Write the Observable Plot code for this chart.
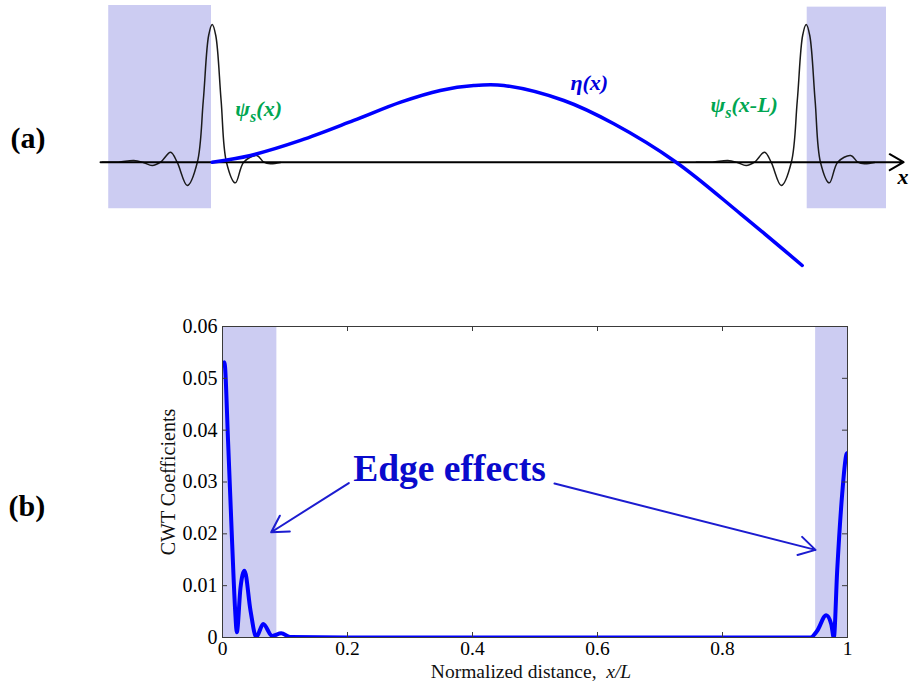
<!DOCTYPE html>
<html><head><meta charset="utf-8">
<script src="https://cdn.jsdelivr.net/npm/d3@7"></script>
<script src="https://cdn.jsdelivr.net/npm/@observablehq/plot@0.6"></script>
<style>
body{margin:0;background:#fff;}
#fig{position:relative;width:909px;height:684px;overflow:hidden;background:#fff;}
#top,#bot{position:absolute;left:0;}
#top{top:0}
#bot{top:300px}
</style></head><body><div id="fig"><div id="top"></div><div id="bot"></div></div>
<script>
// ---------- Panel (a): schematic (x in units of L, amplitude normalised to wavelet peak) ----------
const waveDx  = [-0.185, -0.158, -0.132, -0.116, -0.101, -0.087, -0.070, -0.059, -0.042, -0.025, -0.015, -0.006, 0, 0.006, 0.015, 0.024, 0.039, 0.053, 0.075, 0.087, 0.098, 0.115];
const waveAmp = [0, 0, 0.012, -0.002, -0.024, 0, 0.073, 0, -0.169, 0, 0.448, 0.92, 1.0, 0.92, 0.448, 0, -0.150, 0, 0.049, 0, -0.012, -0.002];
const waveShifts = [0, 1];              // psi_s(x) and psi_s(x - L)
const etaX = [0, 0.0645, 0.1487, 0.2384, 0.3174, 0.384, 0.4404, 0.4909, 0.5919, 0.6761, 0.781, 0.8894, 0.9933];
const etaY = [0, 0.049, 0.158, 0.303, 0.436, 0.521, 0.557, 0.557, 0.448, 0.279, 0, -0.375, -0.750];
const topZoneX1 = [-0.1742, 1.0017];
const topZoneX2 = [-0.0012, 1.1352];
const topZoneY1 = [-0.338, -0.338];
const topZoneY2 = [1.138, 1.126];
const axisStart = -0.188, axisEnd = 1.164;

// ---------- Panel (b): CWT coefficients ----------
const cwtX = [0, 0.003, 0.0091, 0.0155, 0.0203, 0.0229, 0.0288, 0.0352, 0.0448, 0.054, 0.0651, 0.0795, 0.0939, 0.109, 0.2, 0.4, 0.6, 0.8, 0.9408, 0.9515, 0.9659, 0.9739, 0.9781, 0.9835, 0.9915, 0.9984, 1];
const cwtY = [0.0525, 0.0531, 0.0373, 0.018, 0.0051, 0.001, 0.0096, 0.0129, 0.0052, 0.0001, 0.0026, 0.0003, 0.0008, 0.0001, 0, 0, 0, 0, 0, 0.0013, 0.0043, 0.0026, 0, 0.0129, 0.0277, 0.0354, 0.0356];
const edgeX1 = [0, 0.949];
const edgeX2 = [0.087, 1];
const yDomain = [0, 0.06];
const xTicks = [0, 0.2, 0.4, 0.6, 0.8, 1];
const yTicks = [0, 0.01, 0.02, 0.03, 0.04, 0.05, 0.06];
const arrowX1 = [0.2021, 0.5312], arrowY1 = [0.0298, 0.0297];
const arrowX2 = [0.0779, 0.9488], arrowY2 = [0.0203, 0.0169];

const shade = "#ccccf2";
const green = "#00a651";
const serif = "Liberation Serif";

// ---------- build panel (a) ----------
const waves = waveShifts.map(s => waveDx.map((d, i) => ({x: d + s, y: waveAmp[i]})));
const eta = etaX.map((d, i) => ({x: d, y: etaY[i]}));
const topZones = topZoneX1.map((d, i) => ({x1: d, x2: topZoneX2[i], y1: topZoneY1[i], y2: topZoneY2[i]}));

const topPlot = Plot.plot({
  width: 909, height: 300,
  x: {domain: [0, 1], range: [211.7, 805.7], axis: null},
  y: {domain: [0, 1], range: [161.7, 24], axis: null},
  style: {fontFamily: serif, background: "white", overflow: "visible"},
  marks: [
    Plot.rect(topZones, {x1: "x1", x2: "x2", y1: "y1", y2: "y2", fill: shade}),
    ...waves.map(w => Plot.line(w, {x: "x", y: "y", stroke: "#1a1a1a", strokeWidth: 1.5, curve: "catmull-rom"})),
    Plot.arrow([{x1: axisStart, x2: axisEnd, y: 0}], {x1: "x1", x2: "x2", y1: "y", y2: "y", stroke: "black", strokeWidth: 2, headLength: 12}),
    Plot.line(eta, {x: "x", y: "y", stroke: "#0000ff", strokeWidth: 3.5, curve: "catmull-rom"}),
    Plot.text([{t: "ψs(x)", x: 0.039, y: 0.339}, {t: "ψs(x-L)", x: 0.839, y: 0.361}], {x: "x", y: "y", text: "t", fill: green, fontSize: 22, fontWeight: "bold", fontStyle: "italic", textAnchor: "start", lineAnchor: "bottom"}),
    Plot.text([{t: "η(x)", x: 0.603, y: 0.521}], {x: "x", y: "y", text: "t", fill: "#0000dd", fontSize: 22, fontWeight: "bold", fontStyle: "italic", textAnchor: "start", lineAnchor: "bottom"}),
    Plot.text([{t: "x", x: 1.1537, y: -0.155}], {x: "x", y: "y", text: "t", fill: "black", fontSize: 22, fontWeight: "bold", fontStyle: "italic", textAnchor: "start", lineAnchor: "bottom"}),
    Plot.text([{t: "(a)", x: -0.3396, y: 0.0995}], {x: "x", y: "y", text: "t", fill: "black", fontSize: 30, fontWeight: "bold", textAnchor: "start", lineAnchor: "bottom"})
  ]
});

// ---------- build panel (b) ----------
const cwt = cwtX.map((d, i) => ({x: d, y: cwtY[i]}));
const edgeZones = edgeX1.map((d, i) => ({x1: d, x2: edgeX2[i], y1: yDomain[0], y2: yDomain[1]}));
const arrows = arrowX1.map((d, i) => ({x1: d, y1: arrowY1[i], x2: arrowX2[i], y2: arrowY2[i]}));

const botPlot = Plot.plot({
  width: 909, height: 384,
  marginLeft: 222, marginRight: 62, marginTop: 26, marginBottom: 47,
  x: {domain: [0, 1]},
  y: {domain: yDomain},
  style: {fontFamily: serif, fontSize: "20px", background: "white", overflow: "visible"},
  marks: [
    Plot.rect(edgeZones, {x1: "x1", x2: "x2", y1: "y1", y2: "y2", fill: shade}),
    Plot.line(cwt, {x: "x", y: "y", stroke: "#0000ff", strokeWidth: 4, curve: "monotone-x", clip: true, strokeLinejoin: "round"}),
    Plot.frame({stroke: "#3a3a3a", strokeWidth: 1}),
    Plot.tickX(xTicks, {x: d => d, insetTop: 306, stroke: "#3a3a3a"}),
    Plot.tickX(xTicks, {x: d => d, insetBottom: 306, stroke: "#3a3a3a"}),
    Plot.tickY(yTicks, {y: d => d, insetRight: 620, stroke: "#3a3a3a"}),
    Plot.tickY(yTicks, {y: d => d, insetLeft: 620, stroke: "#3a3a3a"}),
    Plot.axisX({ticks: xTicks, tickSize: 0, tickPadding: 4, tickFormat: d => String(d), label: null, fontSize: 19.5, fill: "black"}),
    Plot.axisY({ticks: yTicks, tickSize: 0, tickPadding: 5, tickFormat: d => d === 0 ? "0" : d.toFixed(2), label: null, fontSize: 20, fill: "black"}),
    Plot.text(["CWT Coefficients"], {frameAnchor: "left", dx: -54, rotate: -90, textAnchor: "middle", lineAnchor: "middle", fontSize: 20, fill: "#111"}),
    Plot.text(["Normalized distance,  x/L"], {frameAnchor: "bottom", dy: 40, dx: -4, textAnchor: "middle", lineAnchor: "bottom", fontSize: 19.5, fill: "#111"}),
    Plot.arrow(arrows, {x1: "x1", y1: "y1", x2: "x2", y2: "y2", stroke: "#1c1cd0", strokeWidth: 2, headLength: 14}),
    Plot.text([{t: "Edge effects", x: 0.2091, y: 0.0302}], {x: "x", y: "y", text: "t", fill: "#0a0acc", fontSize: 37.5, fontWeight: "bold", textAnchor: "start", lineAnchor: "bottom"}),
    Plot.text([{t: "(b)", x: -0.3424, y: 0.02348}], {x: "x", y: "y", text: "t", fill: "black", fontSize: 30, fontWeight: "bold", textAnchor: "start", lineAnchor: "bottom"})
  ]
});

// ---------- rich text (subscripts / italics) ----------
const NS = "http://www.w3.org/2000/svg";
function span(t, str, attrs) {
  const s = document.createElementNS(NS, "tspan");
  s.textContent = str;
  for (const k in (attrs || {})) s.setAttribute(k, attrs[k]);
  t.appendChild(s);
}
function enrich(svg) {
  svg.querySelectorAll("text").forEach(t => {
    const s = t.textContent;
    if (s.startsWith("ψs")) {
      t.textContent = "";
      span(t, "ψ");
      span(t, "s", {dy: "6", "font-size": "16px"});
      span(t, s.slice(2), {dy: "-6"});
    } else if (s === "Normalized distance,  x/L") {
      t.textContent = "";
      span(t, "Normalized distance,\u00a0\u00a0");
      span(t, "x/L", {"font-style": "italic"});
    }
  });
}
enrich(topPlot);
enrich(botPlot);
document.getElementById("top").appendChild(topPlot);
document.getElementById("bot").appendChild(botPlot);
</script></body></html>
